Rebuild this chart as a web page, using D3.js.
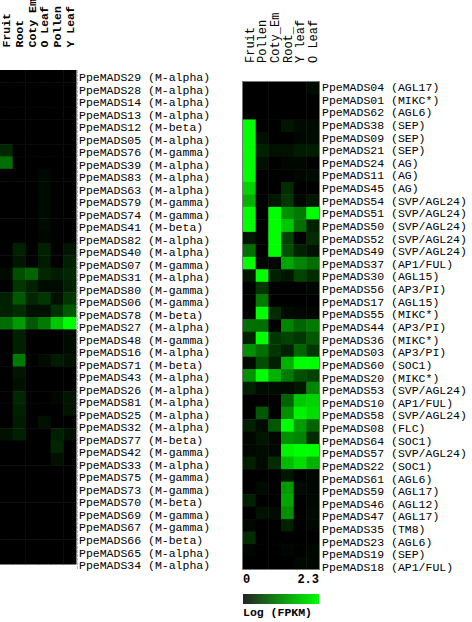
<!DOCTYPE html>
<html>
<head>
<meta charset="utf-8">
<script src="https://cdn.jsdelivr.net/npm/d3@7"></script>
<style>
  body { margin: 0; background: #fff; }
  text { font-family: "Courier New", "Liberation Mono", monospace; }
</style>
</head>
<body>
<div id="chart"></div>
<script>
// left panel
var leftCols = ["Fruit", "Root", "Coty Em", "O Leaf", "Pollen", "Y Leaf"];
var leftGenes = ["PpeMADS29", "PpeMADS28", "PpeMADS14", "PpeMADS13", "PpeMADS12", "PpeMADS05", "PpeMADS76", "PpeMADS39",
  "PpeMADS83", "PpeMADS63", "PpeMADS79", "PpeMADS74", "PpeMADS41", "PpeMADS82", "PpeMADS40", "PpeMADS07",
  "PpeMADS31", "PpeMADS80", "PpeMADS06", "PpeMADS78", "PpeMADS27", "PpeMADS48", "PpeMADS16", "PpeMADS71",
  "PpeMADS43", "PpeMADS26", "PpeMADS81", "PpeMADS25", "PpeMADS32", "PpeMADS77", "PpeMADS42", "PpeMADS33",
  "PpeMADS75", "PpeMADS73", "PpeMADS70", "PpeMADS69", "PpeMADS67", "PpeMADS66", "PpeMADS65", "PpeMADS34"];
var leftFamilies = ["M-alpha", "M-alpha", "M-alpha", "M-alpha", "M-beta", "M-alpha", "M-gamma", "M-alpha",
  "M-alpha", "M-alpha", "M-gamma", "M-gamma", "M-beta", "M-alpha", "M-alpha", "M-gamma",
  "M-alpha", "M-gamma", "M-gamma", "M-beta", "M-alpha", "M-gamma", "M-alpha", "M-beta",
  "M-alpha", "M-alpha", "M-alpha", "M-alpha", "M-alpha", "M-beta", "M-gamma", "M-alpha",
  "M-gamma", "M-gamma", "M-beta", "M-gamma", "M-gamma", "M-beta", "M-alpha", "M-alpha"];
var leftValues = [
  [0, 0, 0, 0, 0, 0], [0, 0, 0, 0, 0, 0], [0, 0, 0, 0, 0, 0], [0, 0, 0, 0, 0, 0],
  [0, 0, 0, 0, 0, 0], [0, 0, 0, 0, 0, 0], [0.35, 0, 0, 0, 0, 0], [1.0, 0, 0, 0, 0, 0],
  [0, 0, 0, 0.05, 0, 0], [0, 0, 0, 0.1, 0, 0], [0, 0, 0, 0.1, 0, 0], [0, 0, 0, 0.1, 0, 0],
  [0, 0, 0, 0.1, 0, 0], [0, 0, 0, 0.05, 0, 0], [0, 0.3, 0, 0.3, 0, 0.2], [0, 0.2, 0, 0.25, 0, 0.3],
  [0.1, 0.7, 0.9, 0.35, 0.25, 0.35], [0, 0.5, 0.3, 0.1, 0.1, 0.3], [0.3, 0.8, 0.35, 0.5, 0.15, 0.5], [0.3, 0.4, 0.15, 0.15, 0.45, 0.8],
  [1.0, 1.4, 0.8, 1.1, 1.8, 2.3], [0, 0.3, 0, 0, 0, 0.1], [0, 0.3, 0, 0, 0, 0.1], [0, 1.1, 0, 0.1, 0.25, 0.15],
  [0, 0.2, 0, 0, 0, 0], [0, 0.15, 0, 0, 0, 0], [0, 0.35, 0, 0, 0.05, 0.2], [0, 0.3, 0, 0, 0, 0.2],
  [0, 0.25, 0, 0.15, 0, 0], [0.15, 0.3, 0, 0, 0.3, 0.15], [0, 0, 0, 0, 0.35, 0], [0, 0, 0, 0, 0.15, 0],
  [0, 0, 0, 0, 0, 0], [0, 0, 0, 0, 0, 0], [0, 0, 0, 0, 0, 0], [0, 0, 0, 0, 0, 0],
  [0, 0, 0, 0, 0, 0], [0, 0, 0, 0, 0, 0], [0, 0, 0, 0, 0, 0], [0, 0, 0, 0, 0, 0]
];

// right panel
var rightCols = ["Fruit", "Pollen", "Coty_Em", "Root_", "Y leaf", "O Leaf"];
var rightGenes = ["PpeMADS04", "PpeMADS01", "PpeMADS62", "PpeMADS38", "PpeMADS09", "PpeMADS21", "PpeMADS24", "PpeMADS11",
  "PpeMADS45", "PpeMADS54", "PpeMADS51", "PpeMADS50", "PpeMADS52", "PpeMADS49", "PpeMADS37", "PpeMADS30",
  "PpeMADS56", "PpeMADS17", "PpeMADS55", "PpeMADS44", "PpeMADS36", "PpeMADS03", "PpeMADS60", "PpeMADS20",
  "PpeMADS53", "PpeMADS10", "PpeMADS58", "PpeMADS08", "PpeMADS64", "PpeMADS57", "PpeMADS22", "PpeMADS61",
  "PpeMADS59", "PpeMADS46", "PpeMADS47", "PpeMADS35", "PpeMADS23", "PpeMADS19", "PpeMADS18"];
var rightFamilies = ["AGL17", "MIKC*", "AGL6", "SEP", "SEP", "SEP", "AG", "AG",
  "AG", "SVP/AGL24", "SVP/AGL24", "SVP/AGL24", "SVP/AGL24", "SVP/AGL24", "AP1/FUL", "AGL15",
  "AP3/PI", "AGL15", "MIKC*", "AP3/PI", "MIKC*", "AP3/PI", "SOC1", "MIKC*",
  "SVP/AGL24", "AP1/FUL", "SVP/AGL24", "FLC", "SOC1", "SVP/AGL24", "SOC1", "AGL6",
  "AGL17", "AGL12", "AGL17", "TM8", "AGL6", "SEP", "AP1/FUL"];
var rightValues = [
  [0, 0, 0, 0, 0, 0.1], [0, 0, 0, 0, 0, 0], [0, 0, 0, 0, 0, 0], [2.3, 0, 0, 0.2, 0.1, 0.1],
  [2.3, 0.15, 0, 0, 0.05, 0.1], [2.3, 0.3, 0.15, 0.15, 0.25, 0.25], [2.3, 0.15, 0, 0.05, 0.05, 0], [2.3, 0, 0, 0, 0.05, 0.1],
  [1.9, 0, 0, 0.4, 0, 0], [1.6, 0, 0.2, 0.5, 0.05, 0.2], [2.3, 0, 2.3, 1.3, 1.1, 2.3], [2.3, 0, 2.3, 1.8, 1.0, 0.3],
  [0.2, 0, 2.3, 0.6, 0, 0.4], [1.0, 0, 2.3, 0.7, 0.3, 0.15], [2.3, 0.05, 0.05, 1.5, 1.2, 1.0], [0.2, 2.3, 0.3, 0.2, 0.6, 0.4],
  [0, 0.5, 0, 0, 0, 0.05], [0, 1.1, 0, 0, 0, 0], [0, 2.3, 0.4, 0.1, 0.05, 0.05], [1.0, 1.0, 0, 1.2, 0.9, 1.1],
  [0.3, 2.3, 0.5, 0.6, 0.5, 0.8], [1.3, 1.0, 0.5, 0.3, 0.9, 0.5], [0.1, 0.7, 0.3, 1.6, 2.3, 2.3], [1.3, 2.3, 1.6, 1.1, 0.7, 0.6],
  [0.3, 0.1, 0.1, 0.1, 0.2, 1.2], [0, 0, 0, 0.9, 1.8, 1.9], [0, 0.8, 0, 1.3, 2.2, 2.0], [0.3, 0.1, 0.8, 2.3, 1.4, 0.9],
  [0.05, 0.2, 0.05, 1.3, 1.2, 0.4], [0.05, 0.1, 0.05, 2.2, 2.3, 2.3], [0.3, 0.1, 0.4, 1.7, 2.0, 1.6], [0, 0, 0, 0.2, 0, 0.05],
  [0, 0.1, 0, 1.4, 0.1, 0.05], [0.3, 0, 0, 1.5, 0, 0.05], [0, 0.15, 0.1, 1.3, 0, 0.1], [0.05, 0, 0, 0.3, 0, 0.05],
  [0.4, 0, 0, 0, 0, 0], [0.05, 0, 0, 0.05, 0, 0.05], [0, 0, 0, 0, 0.05, 0.05]
];

var legendTicks = ["0", "2.3"];
var maxVal = 2.3;

var svg = d3.select("#chart").append("svg")
  .attr("width", 472)
  .attr("height", 622);

var color = d3.scaleLinear().domain([0, maxVal]).range(["#000000", "#00ff00"]).clamp(true);

function drawPanel(cols, genes, families, values, opt) {
  var x = d3.scaleBand().domain(cols).range([opt.x0, opt.x1]);
  var y = d3.scaleBand().domain(genes).range([opt.y0, opt.y1]);
  // labels sit on their own, slightly wider spacing
  var ly = d3.scalePoint().domain(genes).range([opt.ly0, opt.ly1]);

  var cells = [];
  values.forEach(function (row, i) {
    row.forEach(function (v, j) {
      cells.push({ gene: genes[i], col: cols[j], v: v });
    });
  });

  var g = svg.append("g");

  g.selectAll("rect.cell")
    .data(cells)
    .enter()
    .append("rect")
    .attr("class", "cell")
    .attr("x", function (d) { return x(d.col); })
    .attr("y", function (d) { return y(d.gene); })
    .attr("width", x.bandwidth() + 0.5)
    .attr("height", y.bandwidth() + 0.5)
    .attr("fill", function (d) { return color(d.v); });

  if (opt.border) {
    g.append("rect")
      .attr("x", opt.x0 - 0.5)
      .attr("y", opt.y0 - 0.5)
      .attr("width", opt.x1 - opt.x0 + 1)
      .attr("height", opt.y1 - opt.y0 + 1)
      .attr("fill", "none")
      .attr("stroke", "#777")
      .attr("stroke-width", 1);
  } else {
    g.append("line")
      .attr("x1", opt.x1 + 1.5).attr("x2", opt.x1 + 1.5)
      .attr("y1", opt.y0).attr("y2", opt.ly1 + 5)
      .attr("stroke", "#bbb")
      .attr("stroke-dasharray", "3,1");
  }

  // column headers, rotated
  g.selectAll("text.col")
    .data(cols)
    .enter()
    .append("text")
    .attr("class", "col")
    .attr("transform", function (d) {
      return "translate(" + (x(d) + x.bandwidth() / 2) + "," + opt.headY + ") rotate(-90)";
    })
    .attr("dy", "0.35em")
    .attr("font-size", opt.headSize)
    .attr("font-weight", opt.headWeight)
    .attr("fill", "#000")
    .text(function (d) { return d; });

  // row labels
  g.selectAll("text.row")
    .data(genes)
    .enter()
    .append("text")
    .attr("class", "row")
    .attr("x", opt.labelX)
    .attr("y", function (d) { return ly(d); })
    .attr("dy", "0.35em")
    .attr("font-size", 11.5)
    .attr("fill", "#000")
    .style("white-space", "pre")
    .text(function (d, i) { return d + " (" + families[i] + ")"; });
}

drawPanel(leftCols, leftGenes, leftFamilies, leftValues,
  { x0: 0, x1: 76, y0: 70, y1: 564, ly0: 77, ly1: 565, headY: 47.5, headSize: 11.5, headWeight: "bold", labelX: 79, border: false });

drawPanel(rightCols, rightGenes, rightFamilies, rightValues,
  { x0: 243, x1: 319, y0: 82, y1: 569, ly0: 87, ly1: 567, headY: 63, headSize: 12, headWeight: "normal", labelX: 322, border: true });

// legend
var defs = svg.append("defs");
var grad = defs.append("linearGradient").attr("id", "lg");
grad.append("stop").attr("offset", "0%").attr("stop-color", "#222");
grad.append("stop").attr("offset", "100%").attr("stop-color", "#00ff00");

var lx = d3.scaleLinear().domain([0, maxVal]).range([243, 319]);

svg.append("rect")
  .attr("x", lx(0))
  .attr("y", 594)
  .attr("width", lx(maxVal) - lx(0))
  .attr("height", 10)
  .attr("fill", "url(#lg)");

svg.selectAll("text.lt")
  .data(legendTicks)
  .enter()
  .append("text")
  .attr("class", "lt")
  .attr("x", function (d) { return lx(+d); })
  .attr("y", 583)
  .attr("text-anchor", function (d, i) { return i === 0 ? "start" : "end"; })
  .attr("font-size", 12)
  .attr("font-weight", "bold")
  .text(function (d) { return d; });

svg.append("text")
  .attr("x", 243)
  .attr("y", 616)
  .attr("font-size", 11.5)
  .attr("font-weight", "bold")
  .text("Log (FPKM)");
</script>
</body>
</html>
